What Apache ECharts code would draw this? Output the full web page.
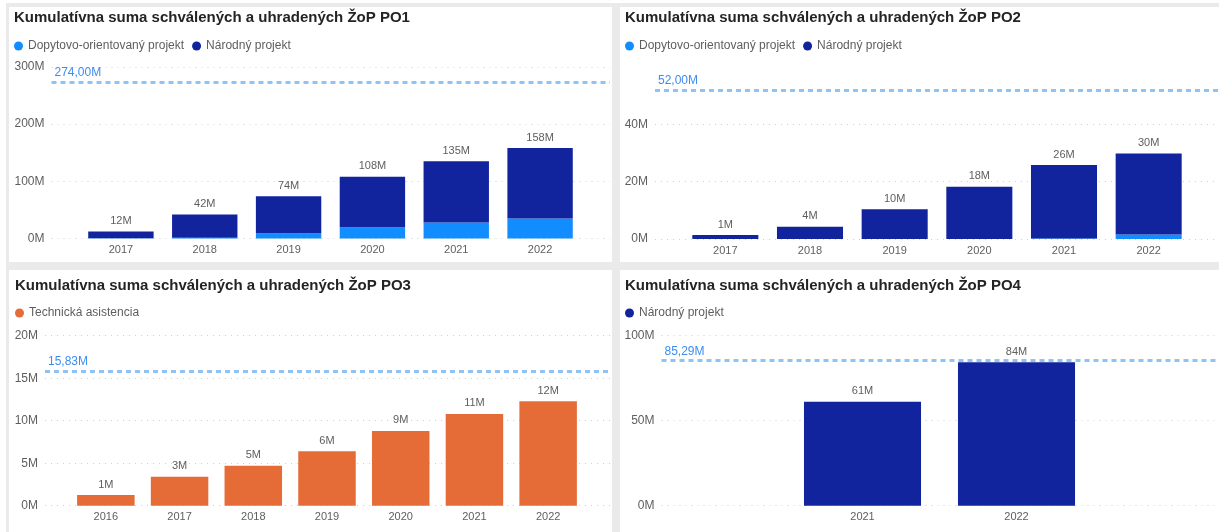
<!DOCTYPE html>
<html>
<head>
<meta charset="utf-8">
<title>Kumulatívna suma ŽoP</title>
<script src="https://cdn.jsdelivr.net/npm/echarts@6/dist/echarts.min.js"></script>
<style>
  body { margin: 0; background: #ffffff; }
  #frame { position: absolute; left: 6px; top: 3px; width: 1213px; height: 529px; background: #eaeaea; }
  .panel { position: absolute; background: #ffffff; }
  #chart { position: absolute; left: 0; top: 0; width: 1219px; height: 532px; }
</style>
</head>
<body>
<div id="frame"></div>
<div class="panel" style="left:9px;top:7px;width:603px;height:255px"></div>
<div class="panel" style="left:620px;top:7px;width:599px;height:255px"></div>
<div class="panel" style="left:9px;top:270px;width:603px;height:262px"></div>
<div class="panel" style="left:620px;top:270px;width:599px;height:262px"></div>
<div id="chart"></div>
<script>
// --- data (values in millions) ---
var titleBase = 'Kumulatívna suma schválených a uhradených ŽoP ';
var nameDopyt = 'Dopytovo-orientovaný projekt';
var nameNarod = 'Národný projekt';
var nameTech = 'Technická asistencia';

var po1Years = ['2017', '2018', '2019', '2020', '2021', '2022'];
var po1Dopyt = [0.3, 1.5, 9, 19.5, 28, 35];
var po1Narod = [11.8, 40.5, 65, 88.5, 107, 123];
var po1Target = 274;
var po1YTicks = [0, 100, 200, 300];

var po2Years = ['2017', '2018', '2019', '2020', '2021', '2022'];
var po2Dopyt = [0, 0, 0, 0, 0.2, 1.6];
var po2Narod = [1.4, 4.3, 10.4, 18.2, 25.6, 28.2];
var po2Target = 52;
var po2YTicks = [0, 20, 40];

var po3Years = ['2016', '2017', '2018', '2019', '2020', '2021', '2022'];
var po3Tech = [1.26, 3.4, 4.7, 6.4, 8.8, 10.8, 12.3];
var po3Target = 15.83;
var po3YTicks = [0, 5, 10, 15, 20];

var po4Years = ['2021', '2022'];
var po4Narod = [61.2, 84.4];
var po4Target = 85.29;
var po4YTicks = [0, 50, 100];

// --- styles ---
var FONT = "'Liberation Sans', Arial, sans-serif";
var C_DOPYT = '#118DFF';
var C_NAROD = '#12239E';
var C_TECH = '#E66C37';
var C_TEXT = '#605E5C';

var panels = [
  { code: 'PO1', years: po1Years, ticks: po1YTicks, target: po1Target,
    series: [{ name: nameDopyt, data: po1Dopyt, color: C_DOPYT }, { name: nameNarod, data: po1Narod, color: C_NAROD }],
    box: { tx: 14, ty: 10, lx: 14, ly: 40, gl: 51.5, gr: 610, zeroY: 238.5, unit: 0.572, yMax: 300, bl: 79, bw: 503, gap: '22%' } },
  { code: 'PO2', years: po2Years, ticks: po2YTicks, target: po2Target,
    series: [{ name: nameDopyt, data: po2Dopyt, color: C_DOPYT }, { name: nameNarod, data: po2Narod, color: C_NAROD }],
    box: { tx: 625, ty: 10, lx: 625, ly: 40, gl: 655, gr: 1219, zeroY: 239, unit: 2.865, yMax: 60, bl: 683, bw: 508, gap: '22%' } },
  { code: 'PO3', years: po3Years, ticks: po3YTicks, target: po3Target,
    series: [{ name: nameTech, data: po3Tech, color: C_TECH }],
    box: { tx: 15, ty: 278, lx: 15, ly: 307, gl: 45, gr: 610, zeroY: 505.7, unit: 8.5, yMax: 20, bl: 69, bw: 516, gap: '22%' } },
  { code: 'PO4', years: po4Years, ticks: po4YTicks, target: po4Target,
    series: [{ name: nameNarod, data: po4Narod, color: C_NAROD }],
    box: { tx: 625, ty: 278, lx: 625, ly: 307, gl: 661.5, gr: 1219, zeroY: 505.7, unit: 1.7, yMax: 100, bl: 785.5, bw: 308, gap: '24%' } }
];

var option = { animation: false, textStyle: { fontFamily: FONT }, title: [], legend: [], grid: [], xAxis: [], yAxis: [], series: [] };

panels.forEach(function (p) {
  var b = p.box;
  var tickMax = p.ticks[p.ticks.length - 1];
  var plotTop = b.zeroY - b.yMax * b.unit;
  var gi = option.grid.length;   // gridlines grid
  var ri = gi + 1;               // target line grid
  var bi = gi + 2;               // bars grid

  option.title.push({
    text: titleBase + p.code, left: b.tx, top: b.ty, padding: 0,
    textStyle: { fontSize: 15, fontWeight: 'bold', color: '#252423', fontFamily: FONT }
  });
  option.legend.push({
    left: b.lx, top: b.ly, padding: 0, icon: 'circle', itemWidth: 9, itemHeight: 9, itemGap: 8,
    data: p.series.map(function (s) { return s.name; }),
    textStyle: { fontSize: 12, color: C_TEXT, fontFamily: FONT }
  });

  option.grid.push(
    { left: b.gl, top: b.zeroY - tickMax * b.unit, width: b.gr - b.gl, height: tickMax * b.unit },
    { left: b.gl, top: plotTop, width: b.gr - b.gl, height: b.yMax * b.unit },
    { left: b.bl, top: plotTop, width: b.bw, height: b.yMax * b.unit }
  );

  option.xAxis.push(
    { gridIndex: gi, type: 'value', show: false },
    { gridIndex: ri, type: 'value', min: 0, max: 1, show: false },
    { gridIndex: bi, type: 'category', data: p.years,
      axisLine: { show: false }, axisTick: { show: false },
      axisLabel: { margin: 6, fontSize: 11, color: C_TEXT, fontFamily: FONT } }
  );

  option.yAxis.push(
    { gridIndex: gi, type: 'value', min: 0, max: tickMax, interval: p.ticks[1] - p.ticks[0],
      axisLine: { show: false }, axisTick: { show: false },
      axisLabel: { margin: 7, fontSize: 12, color: C_TEXT, fontFamily: FONT,
        formatter: function (v) { return v + 'M'; } },
      splitLine: { lineStyle: { color: '#cfcfcf', width: 1, type: [1, 5] } } },
    { gridIndex: ri, type: 'value', min: 0, max: b.yMax, show: false },
    { gridIndex: bi, type: 'value', min: 0, max: b.yMax, show: false }
  );

  option.series.push({
    type: 'line', xAxisIndex: ri, yAxisIndex: ri, data: [], silent: true,
    markLine: {
      silent: true, symbol: 'none', animation: false,
      data: [{ yAxis: p.target }],
      lineStyle: { color: '#8dc3f5', width: 3, type: [5, 4] },
      label: { show: true, position: 'insideStartTop', distance: [3, 3],
        color: '#3d8cf0', fontSize: 12, fontFamily: FONT,
        formatter: function () { return p.target.toFixed(2).replace('.', ',') + 'M'; } }
    }
  });

  var totals = p.years.map(function (y, i) {
    return p.series.reduce(function (acc, s) { return acc + s.data[i]; }, 0);
  });

  p.series.forEach(function (s, k) {
    var last = k === p.series.length - 1;
    option.series.push({
      type: 'bar', name: s.name, xAxisIndex: bi, yAxisIndex: bi, stack: p.code,
      data: s.data, barCategoryGap: b.gap, itemStyle: { color: s.color },
      label: { show: last, position: 'top', distance: 5, fontSize: 11, color: C_TEXT, fontFamily: FONT,
        formatter: function (q) { return Math.round(totals[q.dataIndex]) + 'M'; } }
    });
  });
});

var chart = echarts.init(document.getElementById('chart'), null, { renderer: 'canvas' });
chart.setOption(option);
</script>
</body>
</html>
